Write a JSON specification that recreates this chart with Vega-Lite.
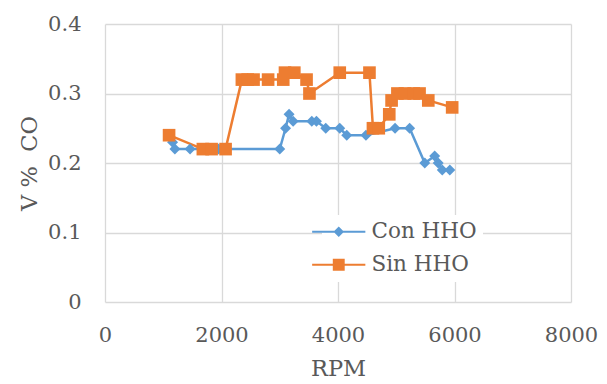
{
  "$schema": "https://vega.github.io/schema/vega-lite/v6.json",
  "width": 466,
  "height": 278,
  "autosize": {"type": "none"},
  "padding": {"left": 105, "top": 24, "right": 36, "bottom": 82},
  "background": "white",
  "config": {
    "view": {"stroke": null},
    "font": "DejaVu Serif",
    "axis": {
      "labelFont": "DejaVu Serif",
      "titleFont": "DejaVu Serif",
      "labelFontSize": 21,
      "titleFontSize": 22.5,
      "labelColor": "#595959",
      "titleColor": "#595959",
      "titleFontWeight": "normal",
      "gridColor": "#d9d9d9",
      "gridWidth": 1.3,
      "domain": false,
      "ticks": false,
      "tickSize": 0
    },
    "legend": {"symbolSize": 196}
  },
  "data": {
    "values": [
      {"rpm": 1160, "co": 0.23, "series": "Con HHO"},
      {"rpm": 1200, "co": 0.22, "series": "Con HHO"},
      {"rpm": 1460, "co": 0.22, "series": "Con HHO"},
      {"rpm": 1950, "co": 0.22, "series": "Con HHO"},
      {"rpm": 3000, "co": 0.22, "series": "Con HHO"},
      {"rpm": 3100, "co": 0.25, "series": "Con HHO"},
      {"rpm": 3160, "co": 0.27, "series": "Con HHO"},
      {"rpm": 3230, "co": 0.26, "series": "Con HHO"},
      {"rpm": 3550, "co": 0.26, "series": "Con HHO"},
      {"rpm": 3630, "co": 0.26, "series": "Con HHO"},
      {"rpm": 3790, "co": 0.25, "series": "Con HHO"},
      {"rpm": 4030, "co": 0.25, "series": "Con HHO"},
      {"rpm": 4150, "co": 0.24, "series": "Con HHO"},
      {"rpm": 4480, "co": 0.24, "series": "Con HHO"},
      {"rpm": 4980, "co": 0.25, "series": "Con HHO"},
      {"rpm": 5230, "co": 0.25, "series": "Con HHO"},
      {"rpm": 5490, "co": 0.2, "series": "Con HHO"},
      {"rpm": 5660, "co": 0.21, "series": "Con HHO"},
      {"rpm": 5720, "co": 0.2, "series": "Con HHO"},
      {"rpm": 5790, "co": 0.19, "series": "Con HHO"},
      {"rpm": 5920, "co": 0.19, "series": "Con HHO"},
      {"rpm": 1100, "co": 0.24, "series": "Sin HHO"},
      {"rpm": 1680, "co": 0.22, "series": "Sin HHO"},
      {"rpm": 1830, "co": 0.22, "series": "Sin HHO"},
      {"rpm": 2070, "co": 0.22, "series": "Sin HHO"},
      {"rpm": 2350, "co": 0.32, "series": "Sin HHO"},
      {"rpm": 2450, "co": 0.32, "series": "Sin HHO"},
      {"rpm": 2550, "co": 0.32, "series": "Sin HHO"},
      {"rpm": 2800, "co": 0.32, "series": "Sin HHO"},
      {"rpm": 3060, "co": 0.32, "series": "Sin HHO"},
      {"rpm": 3090, "co": 0.33, "series": "Sin HHO"},
      {"rpm": 3250, "co": 0.33, "series": "Sin HHO"},
      {"rpm": 3460, "co": 0.32, "series": "Sin HHO"},
      {"rpm": 3510, "co": 0.3, "series": "Sin HHO"},
      {"rpm": 4030, "co": 0.33, "series": "Sin HHO"},
      {"rpm": 4540, "co": 0.33, "series": "Sin HHO"},
      {"rpm": 4600, "co": 0.25, "series": "Sin HHO"},
      {"rpm": 4700, "co": 0.25, "series": "Sin HHO"},
      {"rpm": 4880, "co": 0.27, "series": "Sin HHO"},
      {"rpm": 4920, "co": 0.29, "series": "Sin HHO"},
      {"rpm": 5020, "co": 0.3, "series": "Sin HHO"},
      {"rpm": 5150, "co": 0.3, "series": "Sin HHO"},
      {"rpm": 5300, "co": 0.3, "series": "Sin HHO"},
      {"rpm": 5400, "co": 0.3, "series": "Sin HHO"},
      {"rpm": 5550, "co": 0.29, "series": "Sin HHO"},
      {"rpm": 5960, "co": 0.28, "series": "Sin HHO"}
    ]
  },
  "encoding": {
    "x": {
      "field": "rpm", "type": "quantitative",
      "scale": {"domain": [0, 8000], "nice": false},
      "axis": {"title": "RPM", "values": [0, 2000, 4000, 6000, 8000], "format": "d", "labelPadding": 22, "titlePadding": 12, "labelFlush": false}
    },
    "y": {
      "field": "co", "type": "quantitative",
      "scale": {"domain": [0, 0.4], "nice": false},
      "axis": {"title": "V %\u00a0 CO", "values": [0, 0.1, 0.2, 0.3, 0.4], "format": ".1~f", "labelPadding": 24, "titlePadding": 6}
    },
    "color": {
      "field": "series", "type": "nominal",
      "scale": {"domain": ["Con HHO", "Sin HHO"], "range": ["#5B9BD5", "#ED7D31"]},
      "legend": {
        "title": null,
        "orient": "none",
        "legendX": 217,
        "legendY": 191,
        "padding": 6,
        "fillColor": "white",
        "labelFont": "DejaVu Serif",
        "labelFontSize": 21.5,
        "labelColor": "#595959",
        "labelOffset": 22,
        "rowPadding": 10,
        "symbolSize": 196,
        "encode": {
          "symbols": {
            "update": {
              "shape": {"signal": "datum.value === 'Con HHO' ? 'M-3.8,-0.15H3.8V0.15H-3.8Z M0,-0.75L0.75,0L0,0.75L-0.75,0Z' : 'M-3.8,-0.15H3.8V0.15H-3.8Z M-0.85,-0.85H0.85V0.85H-0.85Z'"},
              "fill": {"scale": "color", "field": "value"},
              "fillOpacity": {"value": 1},
              "opacity": {"value": 1},
              "strokeWidth": {"value": 0},
              "size": {"value": 196}
            }
          }
        }
      }
    }
  },
  "layer": [
    {
      "mark": {"type": "line", "strokeWidth": 2.5},
      "encoding": {}
    },
    {
      "transform": [{"filter": "datum.series === 'Con HHO'"}],
      "mark": {"type": "point", "filled": true, "opacity": 1, "shape": "diamond", "size": 120},
      "encoding": {}
    },
    {
      "transform": [{"filter": "datum.series === 'Sin HHO'"}],
      "mark": {"type": "point", "filled": true, "opacity": 1, "shape": "square", "size": 160},
      "encoding": {}
    }
  ]
}
